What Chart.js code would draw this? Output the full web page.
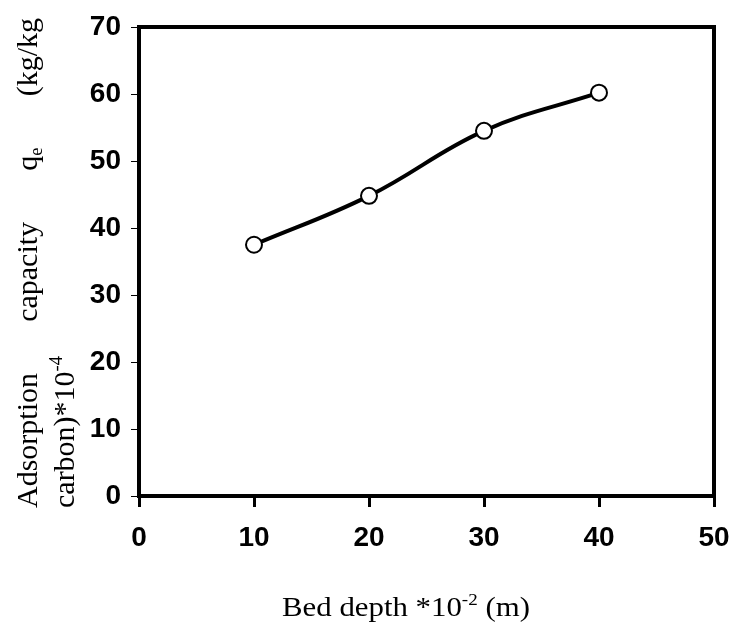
<!DOCTYPE html>
<html>
<head>
<meta charset="utf-8">
<script src="https://cdn.jsdelivr.net/npm/chart.js@4"></script>
<style>
  html, body { margin: 0; padding: 0; background: #fff; }
  #wrap { width: 734px; height: 630px; }
</style>
</head>
<body>
<div id="wrap"><canvas id="bedChart" width="734" height="630"></canvas></div>
<script>
const bedDepth = [10, 20, 30, 40];
const capacity = [37.5, 44.8, 54.5, 60.2];
const xTicks = [0, 10, 20, 30, 40, 50];
const yTicks = [0, 10, 20, 30, 40, 50, 60, 70];

const serif = '"Liberation Serif", "Times New Roman", serif';
const sans = '"Liberation Sans", Arial, sans-serif';

// text pieces with optional superscript / subscript
const measureParts = (ctx, parts, size) => {
    let w = 0;
    parts.forEach(p => {
        const s = (p.sup || p.sub) ? size * 0.62 : size;
        ctx.font = `${s}px ${serif}`;
        w += ctx.measureText(p.t).width;
    });
    return w;
};

const drawParts = (ctx, parts, x, y, size) => {
    let cx = x;
    parts.forEach(p => {
        const s = (p.sup || p.sub) ? size * 0.62 : size;
        ctx.font = `${s}px ${serif}`;
        const dy = p.sup ? -size * 0.4 : (p.sub ? size * 0.18 : 0);
        ctx.fillText(p.t, cx, y + dy);
        cx += ctx.measureText(p.t).width;
    });
};

const titlesPlugin = {
    id: 'titles',
    afterDraw(chart) {
        const { ctx, chartArea } = chart;
        ctx.save();
        ctx.fillStyle = '#000';
        ctx.textBaseline = 'alphabetic';

        // frame
        ctx.strokeStyle = '#000';
        ctx.lineWidth = 4;
        ctx.strokeRect(chartArea.left, chartArea.top, chartArea.right - chartArea.left, chartArea.bottom - chartArea.top);

        // x title, stretched a little to the width of the original
        const xParts = [{ t: 'Bed depth *10' }, { t: '-2', sup: true }, { t: ' (m)' }];
        const xSize = 27;
        const xw = measureParts(ctx, xParts, xSize);
        const target = 248;
        ctx.save();
        ctx.translate(282, 616);
        ctx.scale(target / xw, 1);
        drawParts(ctx, xParts, 0, 0, xSize);
        ctx.restore();

        // y title: two rotated lines, the first spread along the axis
        ctx.save();
        ctx.rotate(-Math.PI / 2);
        const ySize = 30;
        const words = [
            [{ t: 'Adsorption' }],
            [{ t: 'capacity' }],
            [{ t: 'q' }, { t: 'e', sub: true }],
            [{ t: '(kg/kg' }]
        ];
        const start = -508, end = -18;
        const widths = words.map(w => measureParts(ctx, w, ySize));
        const gap = ((end - start) - widths.reduce((a, b) => a + b, 0)) / (words.length - 1);
        let pos = start;
        words.forEach((w, i) => {
            drawParts(ctx, w, pos, 37, ySize);
            pos += widths[i] + gap;
        });
        drawParts(ctx, [{ t: 'carbon)*10' }, { t: '-4', sup: true }], -508, 74, ySize);
        ctx.restore();

        ctx.restore();
    }
};

new Chart(document.getElementById('bedChart'), {
    type: 'line',
    data: {
        datasets: [{
            data: bedDepth.map((x, i) => ({ x: x, y: capacity[i] })),
            borderColor: '#000',
            borderWidth: 4,
            tension: 0.4,
            pointRadius: 8,
            pointBorderWidth: 2,
            pointBackgroundColor: '#fff',
            pointBorderColor: '#000'
        }]
    },
    plugins: [titlesPlugin],
    options: {
        responsive: false,
        animation: false,
        layout: { padding: { left: 0, right: 20, top: 27, bottom: 0 } },
        plugins: { legend: { display: false }, tooltip: { enabled: false } },
        scales: {
            x: {
                type: 'linear',
                min: 0,
                max: 50,
                afterFit: (s) => { s.height = 134; s.paddingLeft = 0; s.paddingRight = 0; },
                afterBuildTicks: (s) => { s.ticks = xTicks.map(v => ({ value: v })); },
                grid: { drawOnChartArea: false, tickLength: 11, tickWidth: 3, color: '#000' },
                border: { display: false },
                ticks: {
                    color: '#000',
                    padding: 14,
                    maxRotation: 0,
                    font: { family: sans, size: 28, weight: 'bold' }
                }
            },
            y: {
                min: 0,
                max: 70,
                afterFit: (s) => { s.width = 139; s.paddingTop = 0; s.paddingBottom = 0; },
                afterBuildTicks: (s) => { s.ticks = yTicks.map(v => ({ value: v })); },
                grid: { drawOnChartArea: false, tickLength: 8, tickWidth: 1, color: '#000' },
                border: { display: false },
                ticks: {
                    color: '#000',
                    padding: 10,
                    font: { family: sans, size: 28, weight: 'bold' }
                }
            }
        }
    }
});
</script>
</body>
</html>
